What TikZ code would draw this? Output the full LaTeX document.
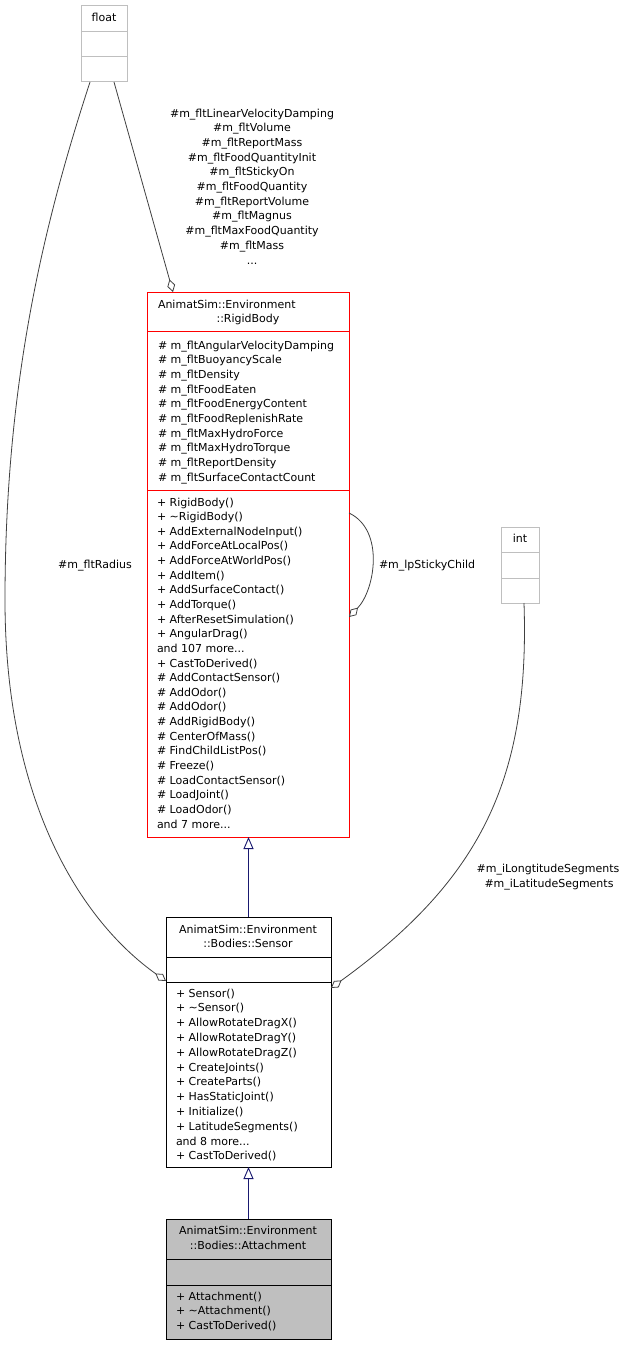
\documentclass[tikz,border=0pt]{standalone}
\usepackage{fontspec}
\setmainfont{DejaVu Sans}
\usetikzlibrary{arrows.meta,calc}
\definecolor{edgegray}{HTML}{404040}
\definecolor{boxgray}{HTML}{BFBFBF}
\definecolor{inhblue}{HTML}{191970}
\definecolor{rbred}{HTML}{FF0000}
\newcommand\tdots{.\kern0pt.\kern0pt.}
\begin{document}
\begin{tikzpicture}[x=1pt,y=-1pt,
  every node/.style={font=\fontsize{11}{13}\selectfont, inner sep=0pt, outer sep=0pt},
  clsbox/.style={draw, line width=0.8pt, anchor=north west},
  agg/.style={draw=edgegray, line width=0.8pt, -{Diamond[fill=white, length=13pt, width=8pt]}},
  inh/.style={draw=inhblue, line width=0.9pt, -{Triangle[fill=white, length=12pt, width=10pt]}},
  txt/.style={anchor=base west},
  ctxt/.style={anchor=base}]
\fill[white] (0,0) rectangle (627,1345);
\useasboundingbox (0,0) rectangle (627,1345);

% float
\node[clsbox, draw=boxgray, minimum width=46pt, minimum height=76pt] (float) at (81,5) {};
\draw[boxgray, line width=0.8pt] (float.west |- 0,31) -- (float.east |- 0,31);
\draw[boxgray, line width=0.8pt] (float.west |- 0,56) -- (float.east |- 0,56);
\node[ctxt] (floatt) at (104,21) {float};

% int
\node[clsbox, draw=boxgray, minimum width=38pt, minimum height=76pt] (int) at (501,527) {};
\draw[boxgray, line width=0.8pt] (int.west |- 0,552) -- (int.east |- 0,552);
\draw[boxgray, line width=0.8pt] (int.west |- 0,578) -- (int.east |- 0,578);
\node[ctxt] (intt) at (520,542) {int};

% RigidBody
\node[clsbox, draw=rbred, minimum width=202pt, minimum height=545pt] (rb) at (147,292) {};
\draw[rbred, line width=0.8pt] (rb.west |- 0,331) -- (rb.east |- 0,331);
\draw[rbred, line width=0.8pt] (rb.west |- 0,490) -- (rb.east |- 0,490);
\node[txt] (rbt1) at (158,308) {AnimatSim::Environment};
\node[ctxt] (rbt2) at (248,322) {::RigidBody};
\foreach \t [count=\i from 0] in {\# m\_fltAngularVelocityDamping,\# m\_fltBuoyancyScale,\# m\_fltDensity,\# m\_fltFoodEaten,\# m\_fltFoodEnergyContent,\# m\_fltFoodReplenishRate,\# m\_fltMaxHydroForce,\# m\_fltMaxHydroTorque,\# m\_fltReportDensity,\# m\_fltSurfaceContactCount}
  \node[txt] (rba\i) at (158,{349+14.67*\i}) {\t};
\foreach \t [count=\i from 0] in {+ RigidBody(),+ \textasciitilde RigidBody(),+ AddExternalNodeInput(),+ AddForceAtLocalPos(),+ AddForceAtWorldPos(),+ AddItem(),+ AddSurfaceContact(),+ AddTorque(),+ AfterResetSimulation(),+ AngularDrag(),and 107 more\tdots,+ CastToDerived(),\# AddContactSensor(),\# AddOdor(),\# AddOdor(),\# AddRigidBody(),\# CenterOfMass(),\# FindChildListPos(),\# Freeze(),\# LoadContactSensor(),\# LoadJoint(),\# LoadOdor(),and 7 more\tdots}
  \node[txt] (rbm\i) at (157,{506+14.64*\i}) {\t};

% Sensor
\node[clsbox, draw=black, minimum width=165pt, minimum height=250pt] (sensor) at (166,917) {};
\draw[black, line width=0.8pt] (sensor.west |- 0,957) -- (sensor.east |- 0,957);
\draw[black, line width=0.8pt] (sensor.west |- 0,982) -- (sensor.east |- 0,982);
\node[ctxt] (st1) at (248,933) {AnimatSim::Environment};
\node[ctxt] (st2) at (248,947) {::Bodies::Sensor};
\foreach \t [count=\i from 0] in {+ Sensor(),+ \textasciitilde Sensor(),+ AllowRotateDragX(),+ AllowRotateDragY(),+ AllowRotateDragZ(),+ CreateJoints(),+ CreateParts(),+ HasStaticJoint(),+ Initialize(),+ LatitudeSegments(),and 8 more\tdots,+ CastToDerived()}
  \node[txt] (sm\i) at (176,{997+14.8*\i}) {\t};

% Attachment
\node[clsbox, draw=black, fill=boxgray, minimum width=165pt, minimum height=120pt] (att) at (166,1219) {};
\draw[black, line width=0.8pt] (att.west |- 0,1259) -- (att.east |- 0,1259);
\draw[black, line width=0.8pt] (att.west |- 0,1285) -- (att.east |- 0,1285);
\node[ctxt] (at1) at (248,1234) {AnimatSim::Environment};
\node[ctxt] (at2) at (248,1249) {::Bodies::Attachment};
\foreach \t [count=\i from 0] in {+ Attachment(),+ \textasciitilde Attachment(),+ CastToDerived()}
  \node[txt] (am\i) at (176,{1300+14.5*\i}) {\t};

% inheritance
\draw[inh] (sensor.north) -- (sensor.north |- rb.south);
\draw[inh] (att.north) -- (sensor.south);

% aggregation float -> RigidBody
\draw[agg] ($(float.south)+(10,1)$) -- ($(rb.north west)+(26,0)$);
\foreach \t [count=\i from 0] in {\#m\_fltLinearVelocityDamping,\#m\_fltVolume,\#m\_fltReportMass,\#m\_fltFoodQuantityInit,\#m\_fltStickyOn,\#m\_fltFoodQuantity,\#m\_fltReportVolume,\#m\_fltMagnus,\#m\_fltMaxFoodQuantity,\#m\_fltMass,\tdots}
  \node[ctxt] (fl\i) at (252,{117+14.7*\i}) {\t};

% aggregation float -> Sensor (radius)
\draw[agg] ($(float.south)+(-14,1)$) .. controls (45,220) and (5,380) .. (5,600)
  .. controls (5,800) and (80,920) .. ($(sensor.north west)+(0,64)$);
\node[ctxt] (radl) at (95,568) {\#m\_fltRadius};

% aggregation int -> Sensor
\draw[agg] ($(int.south)+(4,0)$) .. controls (530,780) and (480,880) .. ($(sensor.north east)+(0,71)$);
\node[ctxt] (segl1) at (548,872) {\#m\_iLongtitudeSegments};
\node[ctxt] (segl2) at (549,887) {\#m\_iLatitudeSegments};

% self loop
\draw[agg] ($(rb.north east)+(0,221)$) .. controls (385,530) and (375,590) .. ($(rb.north east)+(0,325)$);
\node[txt] (stickl) at (379,568) {\#m\_lpStickyChild};
\end{tikzpicture}
\end{document}
